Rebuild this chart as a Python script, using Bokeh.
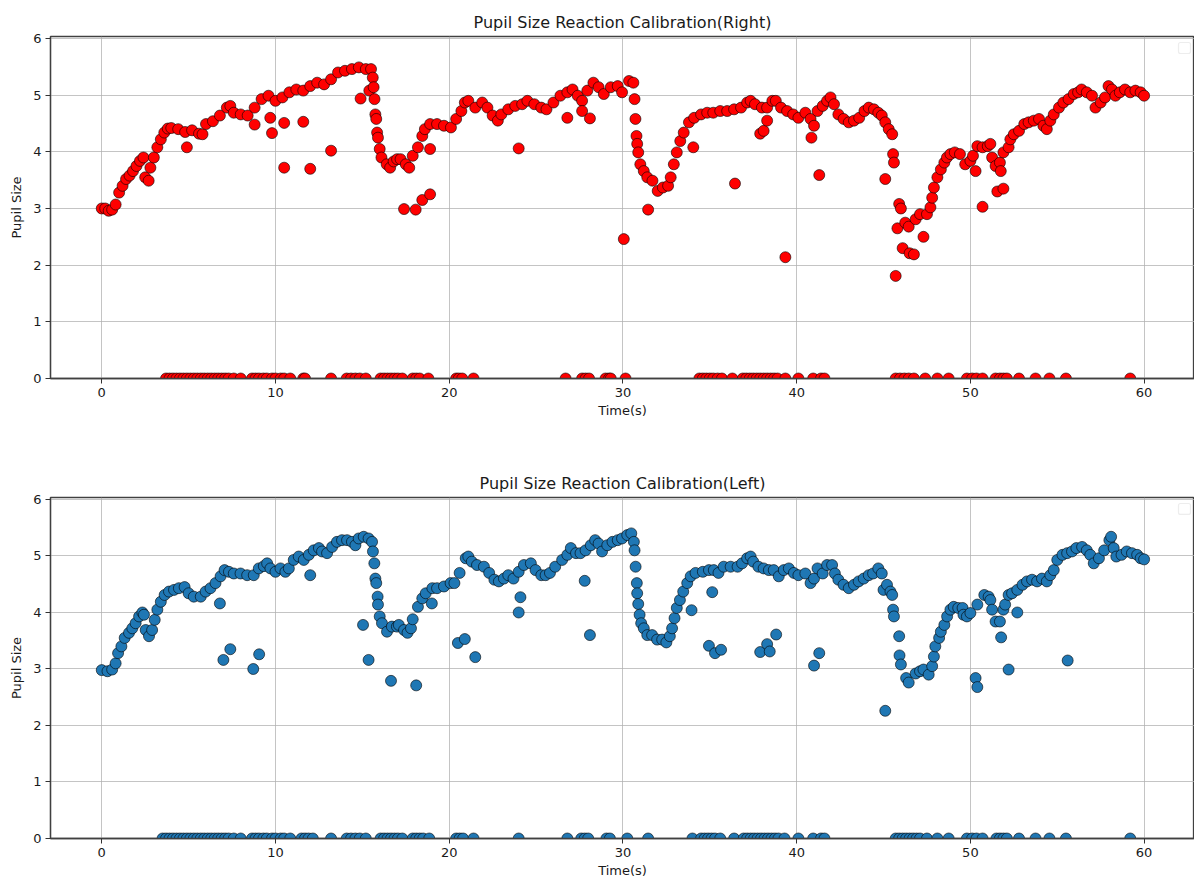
import numpy as np
from bokeh.plotting import figure
from bokeh.layouts import column
from bokeh.models import Range1d, FixedTicker, ColumnDataSource, BoxAnnotation
from bokeh.embed import file_html
from bokeh.resources import INLINE

# ---------------- Right eye ----------------
right_t = [0.0, 0.2, 0.4, 0.6, 0.8, 1.0, 1.2, 1.4, 1.6, 1.8, 2.0, 2.2, 2.4, 2.5, 2.7, 2.8, 3.0, 3.2, 3.4, 3.6,
           3.8, 4.0, 4.4, 4.8, 5.2, 5.6, 5.8, 6.0, 6.4, 6.8, 7.2, 7.4, 7.6, 8.0, 8.4, 8.8, 9.2, 9.6, 10.0, 10.4,
           10.8, 11.2, 11.6, 12.0, 12.4, 12.8, 13.2, 13.6, 14.0, 14.4, 14.8, 15.2, 15.5, 15.6, 15.65, 15.7, 15.75,
           15.8, 15.85, 15.9, 16.0, 16.1, 16.4, 16.6, 16.8, 17.0, 17.2, 17.5, 17.7, 17.9, 18.2, 18.45, 18.6, 18.9,
           19.3, 19.7, 20.1, 20.4, 20.7, 20.9, 21.1, 21.5, 21.9, 22.2, 22.5, 22.8, 23.0, 23.4, 23.8, 24.2, 24.5,
           24.9, 25.3, 25.6, 26.0, 26.4, 26.8, 27.1, 27.4, 27.65, 27.95, 28.3, 28.6, 28.9, 29.3, 29.7, 29.95,
           30.35, 30.6, 30.67, 30.72, 30.78, 30.82, 30.88, 31.0, 31.2, 31.4, 31.7, 32.0, 32.3, 32.6, 32.75, 32.93,
           33.1, 33.3, 33.5, 33.8, 34.1, 34.5, 34.85, 35.2, 35.6, 36.0, 36.4, 36.8, 37.15, 37.35, 37.6, 38.0,
           38.3, 38.6, 38.8, 39.1, 39.45, 39.8, 40.1, 40.5, 40.8, 41.0, 41.2, 41.5, 41.75, 41.95, 42.15, 42.4,
           42.7, 43.0, 43.3, 43.6, 43.9, 44.15, 44.45, 44.7, 44.9, 45.1, 45.3, 45.5, 45.55, 45.6, 45.8, 45.9,
           46.0, 46.25, 46.45, 46.85, 47.1, 47.5, 47.7, 47.8, 47.9, 48.1, 48.3, 48.5, 48.65, 48.85, 49.1, 49.4,
           49.7, 50.0, 50.15, 50.4, 50.7, 51.0, 51.15, 51.25, 51.45, 51.7, 51.75, 51.9, 52.2, 52.3, 52.5, 52.8,
           53.1, 53.35, 53.65, 53.95, 54.2, 54.4, 54.6, 54.8, 55.1, 55.35, 55.65, 55.95, 56.2, 56.4, 56.7, 57.0,
           57.2, 57.5, 57.75, 57.95, 58.15, 58.35, 58.6, 58.9, 59.2, 59.5, 59.8, 60.0]
right_v = [3.0, 3.0, 2.96, 2.98, 3.07, 3.28, 3.4, 3.52, 3.58, 3.66, 3.75, 3.84, 3.9, 3.55, 3.49, 3.72, 3.9, 4.08, 4.22, 4.34,
           4.41, 4.42, 4.4, 4.35, 4.38, 4.32, 4.31, 4.49, 4.54, 4.64, 4.78, 4.81, 4.69, 4.66, 4.64, 4.78, 4.93, 4.99, 4.9, 4.96,
           5.05, 5.1, 5.08, 5.16, 5.22, 5.19, 5.28, 5.4, 5.43, 5.46, 5.49, 5.46, 5.46, 5.31, 5.14, 4.93, 4.66,
           4.58, 4.34, 4.25, 4.05, 3.9, 3.78, 3.72, 3.83, 3.87, 3.87, 3.78, 3.72, 3.93, 4.08, 4.28, 4.4, 4.49,
           4.49, 4.46, 4.43, 4.58, 4.72, 4.87, 4.9, 4.78, 4.87, 4.78, 4.64, 4.55, 4.66, 4.75, 4.81, 4.84, 4.9,
           4.84, 4.78, 4.75, 4.87, 4.99, 5.05, 5.1, 4.99, 4.9, 5.08, 5.22, 5.14, 5.02, 5.14, 5.16, 5.05,
           5.25, 5.22, 4.93, 4.58, 4.28, 4.14, 3.99, 3.78, 3.66, 3.55, 3.49, 3.31, 3.37, 3.4, 3.55, 3.78,
           3.99, 4.19, 4.34, 4.52, 4.6, 4.66, 4.69, 4.69, 4.72, 4.72, 4.75, 4.78, 4.87, 4.9, 4.84, 4.78,
           4.78, 4.9, 4.9, 4.78, 4.72, 4.66, 4.6, 4.69, 4.58, 4.46, 4.72, 4.81, 4.9, 4.96, 4.84, 4.66,
           4.58, 4.52, 4.55, 4.6, 4.72, 4.78, 4.75, 4.69, 4.64, 4.52, 4.4, 4.31, 3.96, 3.81, 2.65, 3.08,
           3.0, 2.75, 2.68, 2.81, 2.9, 2.9, 3.02, 3.19, 3.37, 3.55, 3.69, 3.81, 3.9, 3.96, 3.99, 3.96,
           3.78, 3.84, 3.93, 4.1, 4.08, 4.1, 4.14, 3.9, 3.75, 3.81, 3.66, 3.99, 4.08, 4.22, 4.31, 4.37,
           4.49, 4.52, 4.55, 4.58, 4.46, 4.4, 4.55, 4.66, 4.78, 4.87, 4.93, 5.02, 5.05, 5.1, 5.05, 4.99,
           4.78, 4.87, 4.96, 5.16, 5.1, 4.99, 5.05, 5.1, 5.05, 5.08, 5.05, 4.99]
right_out_t = [4.9, 8.8, 9.7, 9.8, 10.5, 10.5, 11.6, 12.0, 13.2, 14.9, 15.4, 17.4, 18.07, 18.45, 18.9, 18.9,
               24.0, 26.8, 27.65, 28.1, 30.05, 31.45, 34.05, 36.45, 37.9, 38.1, 38.3, 39.35, 40.85, 41.3,
               45.1, 45.7, 46.1, 46.5, 46.75, 47.3, 50.3, 50.7, 51.55, 51.9]
right_out_v = [4.08, 4.48, 4.6, 4.33, 4.51, 3.72, 4.53, 3.7, 4.02, 4.94, 5.08, 2.99, 2.98, 3.15, 3.25, 4.05,
               4.06, 4.6, 4.72, 4.59, 2.46, 2.98, 4.08, 3.44, 4.32, 4.37, 4.55, 2.14, 4.25, 3.59,
               3.52, 1.81, 2.3, 2.21, 2.19, 2.5, 3.66, 3.03, 3.3, 3.35]
right_zero_t = [3.7, 3.9, 4.1, 4.3, 4.5, 4.7, 4.9, 5.1, 5.3, 5.5, 5.7, 5.9, 6.1, 6.3, 6.5, 6.7, 6.9, 7.1, 7.3,
                7.6, 8.0, 8.65, 8.85, 9.05, 9.3, 9.5, 9.8, 10.0, 10.3, 10.5, 10.85, 11.6, 11.7, 13.2, 14.1,
                14.35, 14.6, 14.85, 15.2, 16.05, 16.25, 16.45, 16.65, 16.85, 17.05, 17.3, 17.9, 18.1, 18.3,
                18.8, 20.4, 20.55, 20.75, 21.4, 26.7, 27.65, 27.85, 28.05, 29.0, 29.2, 29.3, 30.15, 34.4,
                34.6, 34.8, 35.0, 35.2, 35.45, 35.7, 36.3, 36.9, 37.1, 37.3, 37.5, 37.7, 37.9, 38.1, 38.3,
                38.5, 38.7, 38.9, 39.35, 40.1, 40.95, 41.4, 41.6, 45.7, 45.95, 46.2, 46.45, 46.75, 47.4,
                48.1, 48.75, 49.8, 50.1, 50.35, 50.7, 51.45, 51.7, 51.9, 52.1, 52.8, 53.75, 54.55, 55.5, 59.2]

# ---------------- Left eye ----------------
left_t = [0.0, 0.33, 0.6, 0.8, 0.94, 1.13, 1.32, 1.57, 1.76, 1.95, 2.15, 2.34, 2.43, 2.53, 2.72, 2.9, 3.05,
          3.2, 3.4, 3.62, 3.87, 4.16, 4.44, 4.77, 5.0, 5.3, 5.7, 5.98, 6.26, 6.55, 6.84, 7.07, 7.32, 7.6, 7.99,
          8.37, 8.75, 9.04, 9.33, 9.52, 9.71, 10.0, 10.29, 10.57, 10.77, 11.05, 11.34, 11.63, 11.92, 12.2,
          12.5, 12.68, 12.97, 13.26, 13.54, 13.83, 14.12, 14.4, 14.6, 14.79, 15.08, 15.36, 15.56, 15.61,
          15.69, 15.75, 15.8, 15.88, 15.9, 16.0, 16.13, 16.42, 16.7, 16.99, 17.1, 17.4, 17.6, 17.8, 17.9,
          18.2, 18.45, 18.65, 19.03, 19.3, 19.7, 20.08, 20.3, 20.6, 20.95, 21.1, 21.3, 21.6, 22.0, 22.3,
          22.6, 22.86, 23.15, 23.4, 23.7, 24.0, 24.3, 24.7, 24.97, 25.3, 25.55, 25.8, 26.1, 26.5, 26.8,
          27.0, 27.3, 27.56, 27.85, 28.15, 28.4, 28.6, 28.8, 29.1, 29.4, 29.7, 29.95, 30.25, 30.48, 30.63,
          30.67, 30.73, 30.8, 30.82, 30.88, 30.96, 31.05, 31.2, 31.4, 31.68, 31.97, 32.26, 32.5, 32.7,
          32.83, 32.97, 33.1, 33.28, 33.47, 33.7, 33.9, 34.18, 34.6, 34.95, 35.23, 35.5, 35.8, 36.2, 36.6,
          36.86, 37.15, 37.35, 37.5, 37.8, 38.1, 38.4, 38.68, 38.97, 39.26, 39.55, 39.84, 40.1, 40.5, 40.8,
          41.0, 41.2, 41.5, 41.75, 42.04, 42.2, 42.4, 42.7, 43.0, 43.3, 43.57, 43.86, 44.15, 44.4, 44.7,
          44.9, 45.0, 45.2, 45.4, 45.5, 45.55, 45.6, 45.9, 45.92, 46.0, 46.3, 46.45, 46.85, 47.1, 47.3,
          47.6, 47.8, 47.9, 47.98, 48.2, 48.3, 48.5, 48.66, 48.85, 49.04, 49.3, 49.55, 49.6, 49.8, 50.0,
          50.4, 50.8, 51.05, 51.15, 51.25, 51.45, 51.7, 51.9, 52.0, 52.2, 52.4, 52.7, 53.0, 53.26, 53.55,
          53.84, 54.12, 54.4, 54.6, 54.8, 55.0, 55.3, 55.57, 55.85, 56.1, 56.43, 56.7, 56.9, 57.1, 57.4,
          57.7, 58.0, 58.1, 58.25, 58.4, 58.7, 59.0, 59.3, 59.6, 59.8, 60.0]
left_v = [2.98, 2.96, 2.99, 3.1, 3.28, 3.4, 3.55, 3.64, 3.72, 3.81, 3.93, 4.0, 3.96, 3.69, 3.58, 3.69, 3.87,
          4.05, 4.19, 4.31, 4.37, 4.4, 4.43, 4.45, 4.34, 4.28, 4.28, 4.37, 4.43, 4.52, 4.64, 4.75, 4.72, 4.69, 4.69,
          4.66, 4.66, 4.78, 4.82, 4.87, 4.78, 4.72, 4.78, 4.72, 4.78, 4.93, 4.99, 4.93, 5.02, 5.1,
          5.14, 5.08, 5.05, 5.16, 5.25, 5.28, 5.28, 5.25, 5.19, 5.31, 5.34, 5.31, 5.25, 5.08,
          4.87, 4.6, 4.52, 4.28, 4.14, 3.93, 3.81, 3.66, 3.75, 3.75, 3.78, 3.69, 3.64, 3.72, 3.88,
          4.1, 4.25, 4.34, 4.43, 4.43, 4.46, 4.52, 4.52, 4.7, 4.96, 4.99, 4.9, 4.84, 4.81, 4.7,
          4.58, 4.55, 4.6, 4.66, 4.6, 4.72, 4.84, 4.87, 4.75, 4.66, 4.66, 4.7, 4.81, 4.93, 5.02,
          5.14, 5.05, 5.05, 5.1, 5.19, 5.28, 5.22, 5.08, 5.19, 5.25, 5.28, 5.31, 5.37, 5.4, 5.25,
          5.1, 4.81, 4.52, 4.34, 4.15, 3.96, 3.81, 3.72, 3.6, 3.6, 3.52, 3.52, 3.47, 3.58,
          3.72, 3.9, 4.08, 4.22, 4.37, 4.52, 4.64, 4.7, 4.72, 4.75, 4.75, 4.7, 4.81, 4.81, 4.81,
          4.87, 4.96, 4.99, 4.9, 4.81, 4.78, 4.75, 4.75, 4.64, 4.75, 4.78, 4.7, 4.66, 4.69, 4.52,
          4.6, 4.78, 4.69, 4.84, 4.84, 4.69, 4.58, 4.49, 4.43, 4.49, 4.55, 4.6, 4.66, 4.69, 4.78,
          4.69, 4.4, 4.49, 4.37, 4.31, 4.05, 3.93, 3.58, 3.24, 3.08, 2.84, 2.76, 2.92, 2.96, 2.99,
          2.9, 3.05, 3.22, 3.4, 3.55, 3.66, 3.78, 3.93, 4.05, 4.1, 4.08, 4.08, 3.96, 3.93, 3.99,
          4.14, 4.31, 4.28, 4.22, 4.05, 3.84, 3.84, 4.05, 4.14, 4.31, 4.34, 4.4, 4.49, 4.55, 4.58,
          4.55, 4.6, 4.55, 4.66, 4.75, 4.93, 5.02, 5.05, 5.08, 5.14, 5.16, 5.1, 5.02, 4.87, 4.96,
          5.1, 5.28, 5.34, 5.14, 4.99, 5.02, 5.08, 5.05, 5.02, 4.96, 4.94]
left_out_t = [6.8, 7.0, 7.4, 8.72, 9.06, 12.0, 15.04, 15.36, 16.65, 18.1, 19.0, 20.5, 20.9, 21.5, 24.0, 24.1,
              27.8, 28.1, 33.95, 34.95, 35.14, 35.3, 35.65, 37.9, 38.3, 38.45, 38.82, 41.0, 41.3, 45.1,
              50.3, 50.4, 51.77, 52.2, 52.7, 55.6]
left_out_v = [4.16, 3.16, 3.35, 3.0, 3.26, 4.66, 3.78, 3.16, 2.79, 2.71, 4.16, 3.46, 3.53, 3.21, 4.0, 4.27,
              4.56, 3.6, 4.04, 3.41, 4.36, 3.28, 3.34, 3.3, 3.44, 3.31, 3.61, 3.06, 3.28, 2.26,
              2.84, 2.68, 3.56, 2.99, 4.0, 3.15]
left_zero_t = [3.5, 3.7, 3.9, 4.1, 4.3, 4.5, 4.7, 4.9, 5.1, 5.3, 5.5, 5.7, 5.9, 6.1, 6.3, 6.5, 6.7, 6.9, 7.1,
               7.3, 7.6, 8.0, 8.65, 8.85, 9.05, 9.3, 9.5, 9.8, 10.0, 10.3, 10.5, 10.85, 11.5, 11.7, 11.9,
               12.15, 13.2, 14.1, 14.35, 14.6, 14.85, 15.2, 16.05, 16.25, 16.45, 16.65, 16.85, 17.05, 17.3,
               17.9, 18.1, 18.3, 18.5, 18.85, 20.4, 20.6, 20.8, 21.4, 24.0, 26.8, 27.6, 27.8, 28.0, 29.05,
               29.25, 30.25, 31.45, 34.0, 34.5, 34.7, 34.9, 35.1, 35.3, 35.6, 36.4, 36.95, 37.15, 37.35,
               37.55, 37.75, 37.95, 38.15, 38.35, 38.55, 38.75, 38.95, 39.3, 40.1, 40.95, 41.4, 41.6, 45.7,
               45.9, 46.1, 46.3, 46.5, 46.7, 46.9, 47.1, 47.5, 48.1, 48.75, 49.8, 50.1, 50.35, 50.7, 51.5,
               51.7, 51.9, 52.1, 52.8, 53.75, 54.55, 55.5, 59.2]

x_ticks = [0, 10, 20, 30, 40, 50, 60]
y_ticks = [0, 1, 2, 3, 4, 5, 6]

FONT = "DejaVu Sans"
X_START, X_END = -2.95, 62.9
Y_START, Y_END = 0.0, 6.035
FRAME_W, FRAME_H = 1144, 342


def combined(t, v, ot, ov, zt):
    tt = np.array(list(t) + list(ot) + list(zt), dtype=float)
    vv = np.array(list(v) + list(ov) + [0.0] * len(zt), dtype=float)
    order = np.argsort(tt, kind="stable")
    return ColumnDataSource(dict(t=tt[order], v=vv[order]))


def make_fig(title, height, border_top, border_bottom, src, color):
    p = figure(width=1194, height=height, output_backend="svg", toolbar_location=None,
               x_range=Range1d(X_START, X_END), y_range=Range1d(Y_START, Y_END),
               min_border_left=50, min_border_right=0, min_border_top=border_top,
               min_border_bottom=border_bottom, background_fill_color="white",
               border_fill_color="white")
    p.title.text = title
    p.title.align = "center"
    p.title.text_font = FONT
    p.title.text_font_style = "normal"
    p.title.text_font_size = "16px"
    p.title.text_color = "#1a1a1a"
    p.title.standoff = 10

    p.xaxis.ticker = FixedTicker(ticks=x_ticks)
    p.yaxis.ticker = FixedTicker(ticks=y_ticks)
    for ax in (p.xaxis, p.yaxis):
        ax.minor_tick_line_color = None
        ax.major_tick_out = 5
        ax.major_tick_in = 0
        ax.major_tick_line_color = "#333333"
        ax.axis_line_color = "#404040"
        ax.axis_line_width = 1.3
        ax.major_label_text_font = FONT
        ax.major_label_text_font_size = "13px"
        ax.major_label_text_color = "#1a1a1a"
        ax.major_label_standoff = 4
        ax.axis_label_text_font = FONT
        ax.axis_label_text_font_size = "13px"
        ax.axis_label_text_font_style = "normal"
        ax.axis_label_text_color = "#1a1a1a"
    p.xaxis.axis_label = "Time(s)"
    p.yaxis.axis_label = "Pupil Size"
    p.xaxis.axis_label_standoff = 3
    p.yaxis.axis_label_standoff = 6

    p.grid.grid_line_color = "#b0b0b0"
    p.grid.grid_line_alpha = 0.75
    p.grid.grid_line_width = 1
    p.outline_line_color = "#404040"
    p.outline_line_width = 1.3
    p.outline_line_alpha = 1

    p.scatter(x="t", y="v", source=src, size=11, fill_color=color,
              line_color="black", line_width=0.7, line_alpha=0.85)

    # empty legend frame in the upper-right corner (pixel offsets inside the frame)
    px_x = (X_END - X_START) / FRAME_W
    px_y = (Y_END - Y_START) / FRAME_H
    legend_box = BoxAnnotation(left=X_START + 1128 * px_x, right=X_START + 1140 * px_x,
                               top=Y_END - 6 * px_y, bottom=Y_END - 17 * px_y,
                               fill_color="white", fill_alpha=1,
                               line_color="#c4c4c4", line_width=1.2, border_radius=2)
    p.add_layout(legend_box)
    return p


src_r = combined(right_t, right_v, right_out_t, right_out_v, right_zero_t)
src_l = combined(left_t, left_v, left_out_t, left_out_v, left_zero_t)

p1 = make_fig("Pupil Size Reaction Calibration(Right)", 460, 36, 82, src_r, "#ff0000")
p2 = make_fig("Pupil Size Reaction Calibration(Left)", 420, 37, 41, src_l, "#1f77b4")

layout = column(p1, p2, spacing=0)
open("out.html", "w").write(file_html(layout, INLINE))
